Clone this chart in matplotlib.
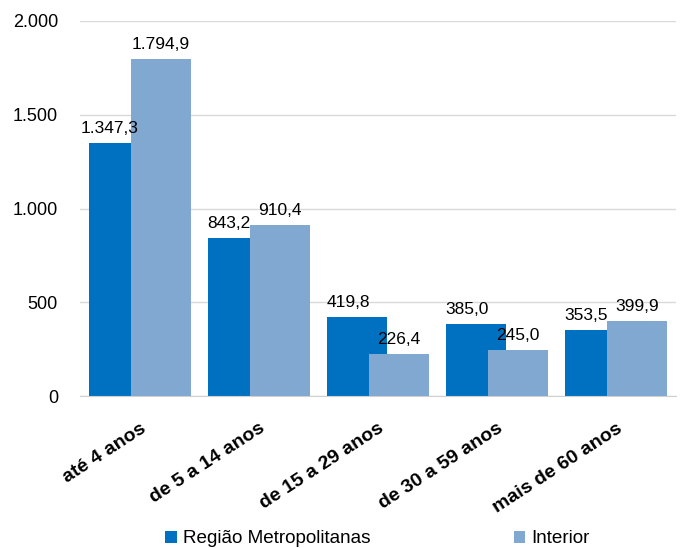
import matplotlib.pyplot as plt
import numpy as np

plt.rcParams['font.family'] = ['Liberation Sans', 'DejaVu Sans']

categorias = ['até 4 anos', 'de 5 a 14 anos', 'de 15 a 29 anos',
              'de 30 a 59 anos', 'mais de 60 anos']
metropolitana = [1347.3, 843.2, 419.8, 385.0, 353.5]
interior = [1794.9, 910.4, 226.4, 245.0, 399.9]
nomes = ['Região Metropolitanas', 'Interior']
yticks = [0, 500, 1000, 1500, 2000]


def fmt_br(v, casas=1):
    s = f'{v:,.{casas}f}'
    return s.replace(',', 'X').replace('.', ',').replace('X', '.')


cor_rm = '#0070C0'
cor_int = '#80A8D0'

fig = plt.figure(figsize=(6.86, 5.48), dpi=100)
ax = fig.add_axes([0.117, 0.277, 0.868, 0.685])

x = np.arange(len(categorias))
w = 0.504
meio = 0.43 - w / 2

ax.bar(x - meio, metropolitana, w, color=cor_rm, label=nomes[0], zorder=2)
ax.bar(x + meio, interior, w, color=cor_int, label=nomes[1], zorder=3)

for i in range(len(categorias)):
    # rótulo da série escura centrado na parte visível
    xc = (x[i] - 0.43 + x[i] + 0.43 - w) / 2
    ax.text(xc, metropolitana[i] + 38, fmt_br(metropolitana[i]),
            ha='center', va='bottom', fontsize=12.5, zorder=4)
    ax.text(x[i] + meio, interior[i] + 38, fmt_br(interior[i]),
            ha='center', va='bottom', fontsize=12.5, zorder=4)

ax.set_xlim(-0.5, len(categorias) - 0.5)
ax.set_ylim(0, 2000)
ax.set_yticks(yticks)
ax.set_yticklabels([fmt_br(v, 0) for v in yticks], fontsize=13)
ax.yaxis.grid(True, color='#D9D9D9', linewidth=1, zorder=0)
ax.set_axisbelow(True)
ax.tick_params(axis='y', length=0, pad=16)
ax.tick_params(axis='x', length=0, pad=17)
ax.set_xticks(x)
ax.set_xticklabels(categorias, rotation=33, ha='right', va='top',
                   rotation_mode='anchor', fontsize=14, fontweight='bold')

for s in ['top', 'right', 'left']:
    ax.spines[s].set_visible(False)
ax.spines['bottom'].set_color('#D0D0D0')

fig.legend(loc='lower center', bbox_to_anchor=(0.55, -0.03), ncol=2,
           frameon=False, fontsize=13.6, handlelength=0.62, handleheight=0.62,
           handletextpad=0.3, columnspacing=7.6)

fig.savefig('out.png', dpi=100)
